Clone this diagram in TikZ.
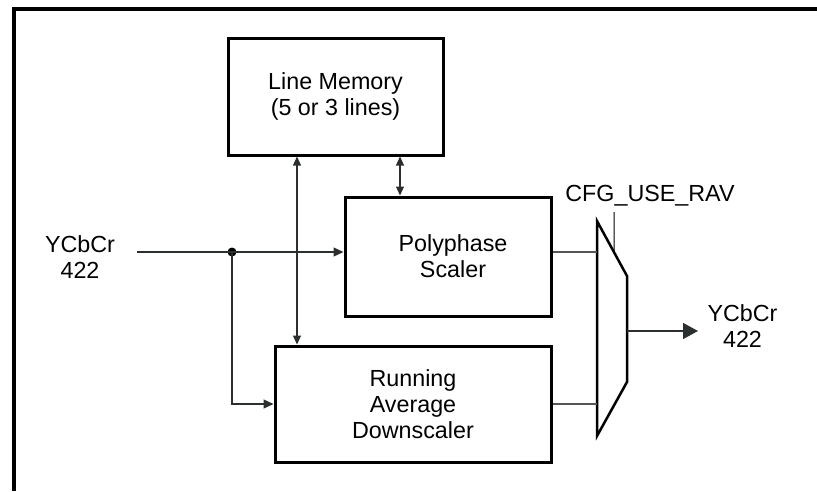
\documentclass[tikz,border=0pt]{standalone}
\usepackage{fontspec}
\setmainfont{Liberation Sans}
\usetikzlibrary{arrows.meta,calc}
\definecolor{conn}{HTML}{2B2F2F}
\definecolor{feed}{HTML}{555555}
\begin{document}
\begin{tikzpicture}[x=1pt,y=-1pt,
  every node/.style={font=\fontsize{23.3}{26}\selectfont, align=center, inner sep=0pt},
  blockbox/.style={draw=black, line width=3pt},
  wire/.style={draw=conn, line width=1.2pt},
  feedwire/.style={draw=feed, line width=1.5pt},
  tipin/.style={-{Triangle[length=10pt,width=9pt]}},
  tipboth/.style={{Triangle[length=9pt,width=8pt]}-{Triangle[length=9pt,width=8pt]}},
  tipout/.style={-{Triangle[length=15pt,width=16pt]}}]
\useasboundingbox (0,0) rectangle (817,491);
% frame
\draw[line width=4pt] (14,491) -- (14,9) -- (817,9);
% blocks
\node[blockbox, minimum width=215pt, minimum height=117pt] (LM) at (335.5,96.5) {Line Memory\\(5 or 3 lines)};
\node[blockbox, minimum width=206pt, minimum height=119pt] (PS) at (448,256.5) {\hspace*{10pt}Polyphase\\\hspace*{10pt}Scaler};
\node[blockbox, minimum width=276pt, minimum height=116pt] (RA) at (413,404) {Running\\Average\\Downscaler};
% mux
\coordinate (m1) at (597,221);
\coordinate (m2) at (627,276);
\coordinate (m3) at (627,382);
\coordinate (m4) at (597,436);
\draw[line width=2.5pt, line join=miter] (m1) -- (m2) -- (m3) -- (m4) -- cycle;
% labels
\node (inlbl) at (80,257) {YCbCr\\422};
\node (outlbl) at (742.5,326.5) {YCbCr\\422};
\node[anchor=base] (cfg) at (650,201) {CFG\_USE\_RAV};
% input
\coordinate (in) at (137,252);
\node[circle, fill=black, minimum size=9pt] (dot) at (232,252) {};
\draw[wire, tipin] (in) -- (in -| PS.west);
\draw[wire, tipin] (dot.center) |- (RA.west);
% memory links
\coordinate (va) at (297,0);
\coordinate (vb) at (400,0);
\draw[wire, tipboth] (LM.south -| va) -- (RA.north -| va);
\draw[wire, tipboth] (LM.south -| vb) -- (PS.north -| vb);
% to mux
\draw[feedwire] (PS.east |- in) -- (in -| m1);
\draw[feedwire] (RA.east) -- (RA.east -| m1);
% output
\coordinate (mo) at (627,331);
\coordinate (oend) at (698,331);
\draw[feedwire, tipout, draw=conn, fill=conn] (mo) -- (oend);
% select
\coordinate (cfgtop) at (614,212);
\draw[line width=1pt] (cfgtop) -- ($(m1)!0.5667!(m2)$);
\end{tikzpicture}
\end{document}
